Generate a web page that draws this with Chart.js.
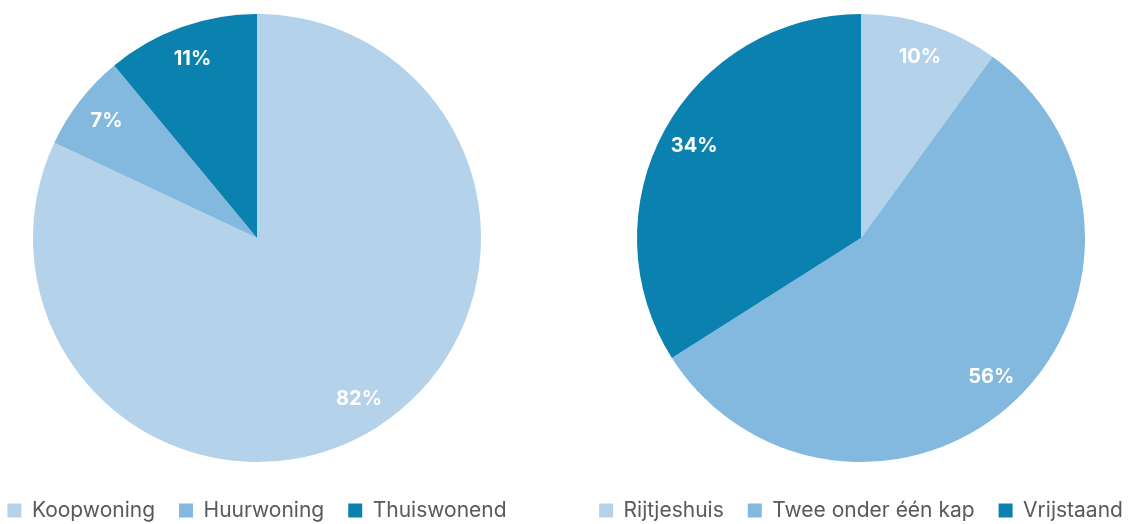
<!DOCTYPE html>
<html><head><meta charset="utf-8">
<script src="https://cdn.jsdelivr.net/npm/chart.js@4"></script>
<style>
html,body{margin:0;padding:0;background:#fff;width:1130px;height:524px;overflow:hidden;position:relative;}
.wrap{position:absolute;top:0;height:531px;width:600px;}
</style></head><body>
<div class="wrap" style="left:-43px"><canvas id="c1" width="600" height="531"></canvas></div>
<div class="wrap" style="left:561px"><canvas id="c2" width="600" height="531"></canvas></div>
<script>
const categories1 = ['Koopwoning', 'Huurwoning', 'Thuiswonend'];
const values1 = [82, 7, 11];
const categories2 = ['Rijtjeshuis', 'Twee onder één kap', 'Vrijstaand'];
const values2 = [10, 56, 34];
const colors = ['#B4D2EA', '#84B9DF', '#0A81AF'];

const labelPlugin = {
  id: 'pctLabels',
  afterDatasetsDraw(chart) {
    const ctx = chart.ctx;
    const meta = chart.getDatasetMeta(0);
    const data = chart.data.datasets[0].data;
    ctx.save();
    ctx.fillStyle = '#ffffff';
    ctx.font = 'bold 20px Inter, "Open Sans", sans-serif';
    ctx.textAlign = 'center';
    ctx.textBaseline = 'middle';
    meta.data.forEach((arc, i) => {
      const p = arc.getProps(['x','y','startAngle','endAngle','outerRadius'], true);
      const mid = (p.startAngle + p.endAngle) / 2;
      const r = p.outerRadius * 0.85;
      ctx.fillText(data[i] + '%', p.x + Math.cos(mid) * r, p.y + Math.sin(mid) * r);
    });
    ctx.restore();
  }
};

function makePie(id, labels, values) {
  return new Chart(document.getElementById(id), {
    type: 'pie',
    data: { labels, datasets: [{ data: values, backgroundColor: colors, borderWidth: 0, radius: 224 }] },
    options: {
      responsive: false,
      animation: false,
      layout: { padding: { top: 0, bottom: 0, left: 0, right: 0 } },
      plugins: {
        tooltip: { enabled: false },
        legend: {
          position: 'bottom',
          labels: {
            color: '#595959',
            font: { family: 'Inter, "Open Sans", sans-serif', size: 21 },
            boxWidth: 14, boxHeight: 14, padding: 24,
            generateLabels(chart) {
              const ds = chart.data.datasets[0];
              return chart.data.labels.map((l, i) => ({
                text: l, fillStyle: ds.backgroundColor[i], strokeStyle: ds.backgroundColor[i], lineWidth: 0, hidden: false, index: i, fontColor: '#595959'
              }));
            }
          }
        }
      }
    },
    plugins: [labelPlugin]
  });
}
makePie('c1', categories1, values1);
makePie('c2', categories2, values2);
</script>
</body></html>
